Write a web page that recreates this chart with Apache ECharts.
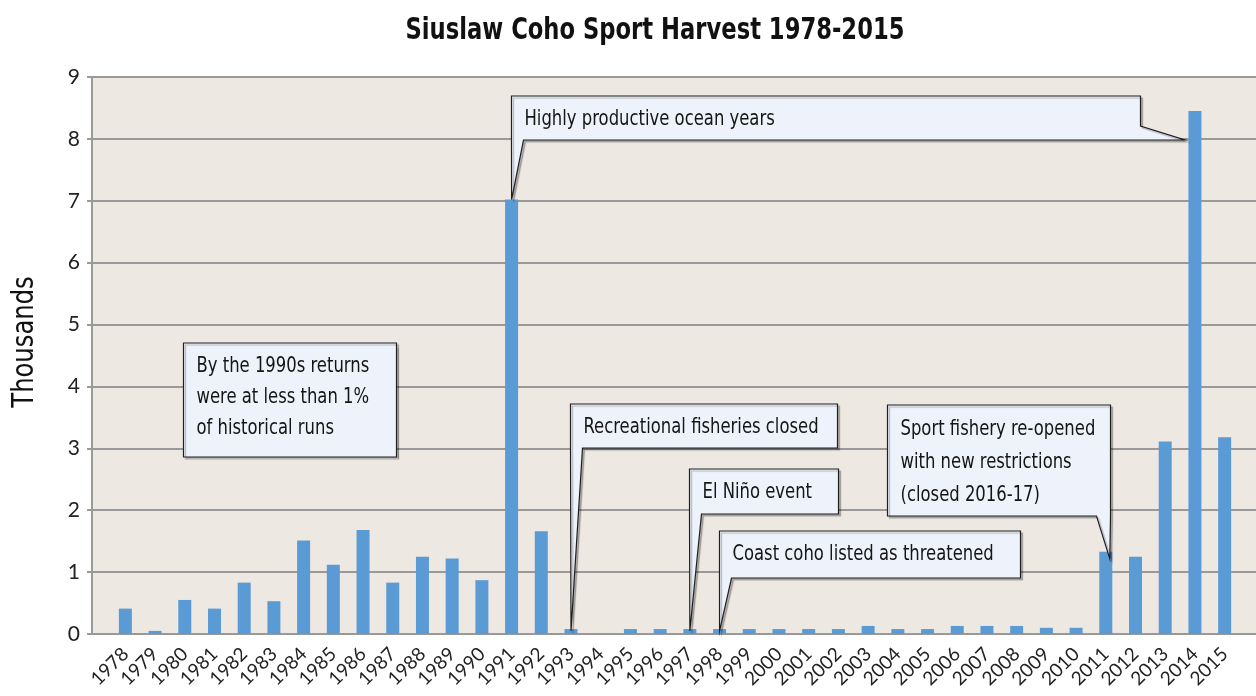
<!DOCTYPE html>
<html>
<head>
<meta charset="utf-8">
<script src="https://cdn.jsdelivr.net/npm/echarts@6/dist/echarts.min.js"></script>
<style>
  html, body { margin: 0; padding: 0; background: #fff; }
  #chart { width: 1256px; height: 696px; }
</style>
</head>
<body>
<div id="chart"></div>
<script>
  // Siuslaw coho sport harvest, thousands of fish
  var years = ['1978', '1979', '1980', '1981', '1982', '1983', '1984', '1985', '1986', '1987',
    '1988', '1989', '1990', '1991', '1992', '1993', '1994', '1995', '1996', '1997',
    '1998', '1999', '2000', '2001', '2002', '2003', '2004', '2005', '2006', '2007',
    '2008', '2009', '2010', '2011', '2012', '2013', '2014', '2015'];
  var harvest = [0.41, 0.05, 0.55, 0.41, 0.83, 0.53, 1.51, 1.12, 1.68, 0.83,
    1.25, 1.22, 0.87, 7.02, 1.66, 0.08, 0, 0.08, 0.08, 0.08,
    0.08, 0.08, 0.08, 0.08, 0.08, 0.13, 0.08, 0.08, 0.13, 0.13,
    0.13, 0.1, 0.1, 1.33, 1.25, 3.11, 8.45, 3.18];
  var yTicks = ['0', '1', '2', '3', '4', '5', '6', '7', '8', '9'];

  var NARROW = '"DejaVu Sans Condensed", "DejaVu Sans", sans-serif';
  var GILL = 'Lato, "Open Sans", sans-serif';
  var SQUEEZE = 0.87; // condensed look for the annotation font
  var GRID_TOP = 77, GRID_BOTTOM = 62;

  var chart = echarts.init(document.getElementById('chart'));

  var option = {
    animation: false,
    backgroundColor: '#ffffff',
    grid: [
      // background panel with gridlines, spans full width
      { left: 92, right: 0, top: GRID_TOP, bottom: GRID_BOTTOM, show: true,
        backgroundColor: '#ede8e2', borderWidth: 0 },
      // bars
      { left: 110.5, right: 16.5, top: GRID_TOP, bottom: GRID_BOTTOM }
    ],
    xAxis: [
      { gridIndex: 0, type: 'value', min: 0, max: 1, show: false },
      {
        gridIndex: 1, type: 'category', data: years,
        axisLine: { show: false }, axisTick: { show: false },
        axisLabel: { rotate: 45, margin: 17, fontFamily: GILL, fontSize: 19, color: '#222', interval: 0 }
      }
    ],
    yAxis: [
      {
        gridIndex: 0, type: 'value', min: 0, max: 9, interval: 1,
        axisLine: { show: true, lineStyle: { color: '#9a9a9a', width: 2 } },
        axisTick: { show: true, length: 5, lineStyle: { color: '#9a9a9a', width: 2 } },
        axisLabel: {
          margin: 12, fontFamily: GILL, fontSize: 21, color: '#222',
          formatter: function (v) { return yTicks[v]; }
        },
        splitLine: { show: true, lineStyle: { color: '#999', width: 2 } }
      },
      { gridIndex: 1, type: 'value', min: 0, max: 9, show: false }
    ],
    series: [{
      type: 'bar',
      xAxisIndex: 1,
      yAxisIndex: 1,
      data: harvest,
      barWidth: 13,
      itemStyle: { color: '#5b9bd5' }
    }]
  };
  chart.setOption(option);

  // callout boxes: layout only, tips follow the bars
  var notes = [
    { lines: ['Highly productive ocean years'], tail: 'left', year: '1991', y: 96, w: 629, h: 44,
      year2: '2014', lh: 31 },
    { lines: ['By the 1990s returns', 'were at less than 1%', 'of historical runs'], tail: 'none',
      x: 183, y: 343, w: 213, h: 114, lh: 31 },
    { lines: ['Recreational fisheries closed'], tail: 'left', year: '1993', y: 404, w: 267, h: 44, lh: 31 },
    { lines: ['El Niño event'], tail: 'left', year: '1997', y: 469, w: 149, h: 45, lh: 31 },
    { lines: ['Coast coho listed as threatened'], tail: 'left', year: '1998', y: 531, w: 301, h: 47, lh: 31 },
    { lines: ['Sport fishery re-opened', 'with new restrictions', '(closed 2016-17)'], tail: 'right',
      year: '2011', y: 405, w: 223, h: 111, lh: 33 }
  ];

  function barTop(year) {
    var i = years.indexOf(year);
    return chart.convertToPixel({ xAxisIndex: 1, yAxisIndex: 1 }, [i, harvest[i]]);
  }

  var graphics = [
    {
      type: 'text', x: 655, y: 31, scaleX: 0.84,
      style: {
        text: 'Siuslaw Coho Sport Harvest 1978-2015',
        fontFamily: NARROW, fontSize: 30, fontWeight: 'bold', fill: '#111',
        align: 'center', verticalAlign: 'middle'
      }
    },
    {
      type: 'text', x: 25, y: 342, rotation: Math.PI / 2, scaleX: SQUEEZE,
      style: {
        text: 'Thousands', fontFamily: NARROW, fontSize: 31, fill: '#111',
        align: 'center', verticalAlign: 'middle'
      }
    }
  ];

  notes.forEach(function (n) {
    var x0, x1, y0 = n.y, y1 = n.y + n.h, pts;
    if (n.tail === 'left') {
      var t = barTop(n.year);
      x0 = Math.round(t[0]) - 0.5;
      x1 = x0 + n.w;
      if (n.year2) {
        var t2 = barTop(n.year2);
        pts = [[x0, y0], [x1, y0], [x1, y1 - 14], [t2[0] - 10, y1], [x0 + 12, y1], [t[0], t[1]], [x0, y1]];
      } else {
        pts = [[x0, y0], [x1, y0], [x1, y1], [x0 + 12, y1], [t[0], t[1] + 2], [x0, y1]];
      }
    } else if (n.tail === 'right') {
      var tr = barTop(n.year);
      x1 = Math.round(tr[0]) + 4.5;
      x0 = x1 - n.w;
      pts = [[x0, y0], [x1, y0], [x1, y1], [tr[0] + 4, tr[1] + 7], [x1 - 14, y1], [x0, y1]];
    } else {
      x0 = n.x + 0.5;
      x1 = x0 + n.w;
      pts = [[x0, y0], [x1, y0], [x1, y1], [x0, y1]];
    }
    graphics.push({
      type: 'polygon',
      z: 10,
      shape: { points: pts },
      style: {
        fill: '#eef2fa', stroke: '#1e1e1e', lineWidth: 1.2,
        shadowColor: 'rgba(0,0,0,0.25)', shadowOffsetX: 2, shadowOffsetY: 2, shadowBlur: 1
      }
    });
    graphics.push({
      type: 'text',
      z: 11,
      x: x0 + 13,
      y: y0 + 8,
      scaleX: SQUEEZE,
      style: {
        text: n.lines.join('\n'),
        fontFamily: NARROW,
        fontSize: 21,
        lineHeight: n.lh,
        fill: '#151515',
        verticalAlign: 'top'
      }
    });
  });

  chart.setOption({ graphic: graphics });
</script>
</body>
</html>
